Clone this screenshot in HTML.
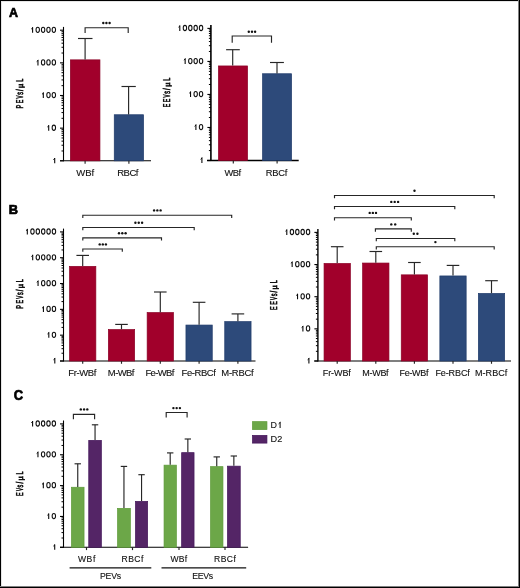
<!DOCTYPE html>
<html><head><meta charset="utf-8"><style>html,body{margin:0;padding:0;background:#fff;width:520px;height:588px;overflow:hidden}body{position:relative;font-family:"Liberation Sans",sans-serif}</style></head><body>
<svg width="520" height="588" viewBox="0 0 520 588" style="position:absolute;left:0;top:0;will-change:transform" font-family="Liberation Sans, sans-serif">
<rect x="0" y="0" width="520" height="588" fill="#fff"/>
<text x="8.89" y="17.30" font-size="13.66" font-weight="bold" textLength="9.04" lengthAdjust="spacingAndGlyphs" fill="#000" stroke="#000" stroke-width="0.7">A</text>
<text x="8.84" y="214.00" font-size="12.94" font-weight="bold" textLength="9.24" lengthAdjust="spacingAndGlyphs" fill="#000" stroke="#000" stroke-width="0.7">B</text>
<text x="13.87" y="400.30" font-size="14.54" font-weight="bold" textLength="9.39" lengthAdjust="spacingAndGlyphs" fill="#000" stroke="#000" stroke-width="0.7">C</text>
<line x1="63.50" y1="26.90" x2="63.50" y2="161.30" stroke="#000" stroke-width="1.1"/>
<line x1="60.00" y1="160.80" x2="63.50" y2="160.80" stroke="#000" stroke-width="1.1"/>
<line x1="61.50" y1="150.97" x2="63.50" y2="150.97" stroke="#000" stroke-width="1.0"/>
<line x1="61.50" y1="145.22" x2="63.50" y2="145.22" stroke="#000" stroke-width="1.0"/>
<line x1="61.50" y1="141.14" x2="63.50" y2="141.14" stroke="#000" stroke-width="1.0"/>
<line x1="61.50" y1="137.98" x2="63.50" y2="137.98" stroke="#000" stroke-width="1.0"/>
<line x1="61.50" y1="135.39" x2="63.50" y2="135.39" stroke="#000" stroke-width="1.0"/>
<line x1="61.50" y1="133.21" x2="63.50" y2="133.21" stroke="#000" stroke-width="1.0"/>
<line x1="61.50" y1="131.31" x2="63.50" y2="131.31" stroke="#000" stroke-width="1.0"/>
<line x1="61.50" y1="129.64" x2="63.50" y2="129.64" stroke="#000" stroke-width="1.0"/>
<path d="M54.70,157.90 V163.35" stroke="#0a0a0a" stroke-width="1.1" fill="none"/>
<path d="M55.00,158.10 L53.40,159.60" stroke="#0a0a0a" stroke-width="1.0" fill="none"/>
<line x1="60.00" y1="128.15" x2="63.50" y2="128.15" stroke="#000" stroke-width="1.1"/>
<line x1="61.50" y1="118.32" x2="63.50" y2="118.32" stroke="#000" stroke-width="1.0"/>
<line x1="61.50" y1="112.57" x2="63.50" y2="112.57" stroke="#000" stroke-width="1.0"/>
<line x1="61.50" y1="108.49" x2="63.50" y2="108.49" stroke="#000" stroke-width="1.0"/>
<line x1="61.50" y1="105.33" x2="63.50" y2="105.33" stroke="#000" stroke-width="1.0"/>
<line x1="61.50" y1="102.74" x2="63.50" y2="102.74" stroke="#000" stroke-width="1.0"/>
<line x1="61.50" y1="100.56" x2="63.50" y2="100.56" stroke="#000" stroke-width="1.0"/>
<line x1="61.50" y1="98.66" x2="63.50" y2="98.66" stroke="#000" stroke-width="1.0"/>
<line x1="61.50" y1="96.99" x2="63.50" y2="96.99" stroke="#000" stroke-width="1.0"/>
<ellipse cx="53.85" cy="127.75" rx="1.7" ry="2.62" fill="none" stroke="#111" stroke-width="1.05"/>
<path d="M48.70,125.25 V130.70" stroke="#0a0a0a" stroke-width="1.1" fill="none"/>
<path d="M49.00,125.45 L47.40,126.95" stroke="#0a0a0a" stroke-width="1.0" fill="none"/>
<line x1="60.00" y1="95.50" x2="63.50" y2="95.50" stroke="#000" stroke-width="1.1"/>
<line x1="61.50" y1="85.67" x2="63.50" y2="85.67" stroke="#000" stroke-width="1.0"/>
<line x1="61.50" y1="79.92" x2="63.50" y2="79.92" stroke="#000" stroke-width="1.0"/>
<line x1="61.50" y1="75.84" x2="63.50" y2="75.84" stroke="#000" stroke-width="1.0"/>
<line x1="61.50" y1="72.68" x2="63.50" y2="72.68" stroke="#000" stroke-width="1.0"/>
<line x1="61.50" y1="70.09" x2="63.50" y2="70.09" stroke="#000" stroke-width="1.0"/>
<line x1="61.50" y1="67.91" x2="63.50" y2="67.91" stroke="#000" stroke-width="1.0"/>
<line x1="61.50" y1="66.01" x2="63.50" y2="66.01" stroke="#000" stroke-width="1.0"/>
<line x1="61.50" y1="64.34" x2="63.50" y2="64.34" stroke="#000" stroke-width="1.0"/>
<ellipse cx="48.48" cy="95.10" rx="1.7" ry="2.62" fill="none" stroke="#111" stroke-width="1.05"/>
<ellipse cx="53.85" cy="95.10" rx="1.7" ry="2.62" fill="none" stroke="#111" stroke-width="1.05"/>
<path d="M43.33,92.60 V98.05" stroke="#0a0a0a" stroke-width="1.1" fill="none"/>
<path d="M43.63,92.80 L42.03,94.30" stroke="#0a0a0a" stroke-width="1.0" fill="none"/>
<line x1="60.00" y1="62.85" x2="63.50" y2="62.85" stroke="#000" stroke-width="1.1"/>
<line x1="61.50" y1="53.02" x2="63.50" y2="53.02" stroke="#000" stroke-width="1.0"/>
<line x1="61.50" y1="47.27" x2="63.50" y2="47.27" stroke="#000" stroke-width="1.0"/>
<line x1="61.50" y1="43.19" x2="63.50" y2="43.19" stroke="#000" stroke-width="1.0"/>
<line x1="61.50" y1="40.03" x2="63.50" y2="40.03" stroke="#000" stroke-width="1.0"/>
<line x1="61.50" y1="37.44" x2="63.50" y2="37.44" stroke="#000" stroke-width="1.0"/>
<line x1="61.50" y1="35.26" x2="63.50" y2="35.26" stroke="#000" stroke-width="1.0"/>
<line x1="61.50" y1="33.36" x2="63.50" y2="33.36" stroke="#000" stroke-width="1.0"/>
<line x1="61.50" y1="31.69" x2="63.50" y2="31.69" stroke="#000" stroke-width="1.0"/>
<ellipse cx="43.11" cy="62.45" rx="1.7" ry="2.62" fill="none" stroke="#111" stroke-width="1.05"/>
<ellipse cx="48.48" cy="62.45" rx="1.7" ry="2.62" fill="none" stroke="#111" stroke-width="1.05"/>
<ellipse cx="53.85" cy="62.45" rx="1.7" ry="2.62" fill="none" stroke="#111" stroke-width="1.05"/>
<path d="M37.96,59.95 V65.40" stroke="#0a0a0a" stroke-width="1.1" fill="none"/>
<path d="M38.26,60.15 L36.66,61.65" stroke="#0a0a0a" stroke-width="1.0" fill="none"/>
<line x1="60.00" y1="30.20" x2="63.50" y2="30.20" stroke="#000" stroke-width="1.1"/>
<ellipse cx="37.74" cy="29.80" rx="1.7" ry="2.62" fill="none" stroke="#111" stroke-width="1.05"/>
<ellipse cx="43.11" cy="29.80" rx="1.7" ry="2.62" fill="none" stroke="#111" stroke-width="1.05"/>
<ellipse cx="48.48" cy="29.80" rx="1.7" ry="2.62" fill="none" stroke="#111" stroke-width="1.05"/>
<ellipse cx="53.85" cy="29.80" rx="1.7" ry="2.62" fill="none" stroke="#111" stroke-width="1.05"/>
<path d="M32.59,27.30 V32.75" stroke="#0a0a0a" stroke-width="1.1" fill="none"/>
<path d="M32.89,27.50 L31.29,29.00" stroke="#0a0a0a" stroke-width="1.0" fill="none"/>
<line x1="60.00" y1="160.80" x2="151.00" y2="160.80" stroke="#000" stroke-width="1.1"/>
<rect x="70.35" y="59.85" width="29.60" height="100.95" fill="#a1002b" stroke="#8a0025" stroke-width="0.7"/>
<rect x="114.25" y="114.75" width="29.30" height="46.05" fill="#2d4a7a" stroke="#1f3a6a" stroke-width="0.7"/>
<line x1="85.10" y1="59.50" x2="85.10" y2="38.50" stroke="#262626" stroke-width="1.15"/>
<line x1="78.00" y1="38.50" x2="92.50" y2="38.50" stroke="#262626" stroke-width="1.15"/>
<line x1="128.60" y1="114.40" x2="128.60" y2="86.50" stroke="#262626" stroke-width="1.15"/>
<line x1="121.50" y1="86.50" x2="135.80" y2="86.50" stroke="#262626" stroke-width="1.15"/>
<line x1="85.10" y1="160.80" x2="85.10" y2="163.80" stroke="#262626" stroke-width="1.15"/>
<line x1="128.90" y1="160.80" x2="128.90" y2="163.80" stroke="#262626" stroke-width="1.15"/>
<text x="76.26" y="175.60" font-size="9.52" font-weight="normal" textLength="17.93" lengthAdjust="spacing" fill="#111" stroke="#111" stroke-width="0.12">WBf</text>
<text x="117.22" y="175.60" font-size="9.52" font-weight="normal" textLength="21.27" lengthAdjust="spacing" fill="#111" stroke="#111" stroke-width="0.12">RBCf</text>
<path d="M85.10,33.00 V27.70 H128.20 V33.00" fill="none" stroke="#262626" stroke-width="1.15"/>
<circle cx="103.30" cy="23.00" r="1.2" fill="#111"/>
<circle cx="106.40" cy="23.00" r="1.2" fill="#111"/>
<circle cx="109.60" cy="23.00" r="1.2" fill="#111"/>
<g transform="translate(22.70,108.30) rotate(-90)" fill="#111" stroke="#111" stroke-width="0.7" text-rendering="geometricPrecision"><text transform="translate(-0.11,0) scale(0.57,1)" font-size="9.80">P</text><text transform="translate(5.02,0) scale(0.54,1)" font-size="9.80">E</text><text transform="translate(9.78,0) scale(0.47,1)" font-size="9.80">V</text><text transform="translate(13.50,0) scale(0.55,1)" font-size="9.80">s</text><text transform="translate(17.30,0) scale(0.62,1)" font-size="9.80">/</text><text transform="translate(20.41,0) scale(0.95,1)" font-size="7.64">µ</text><text transform="translate(26.44,0) scale(0.57,1)" font-size="9.80">L</text></g>
<line x1="210.90" y1="25.05" x2="210.90" y2="161.00" stroke="#000" stroke-width="1.6"/>
<line x1="207.40" y1="160.50" x2="210.90" y2="160.50" stroke="#000" stroke-width="1.1"/>
<line x1="208.90" y1="150.56" x2="210.90" y2="150.56" stroke="#000" stroke-width="1.0"/>
<line x1="208.90" y1="144.74" x2="210.90" y2="144.74" stroke="#000" stroke-width="1.0"/>
<line x1="208.90" y1="140.62" x2="210.90" y2="140.62" stroke="#000" stroke-width="1.0"/>
<line x1="208.90" y1="137.42" x2="210.90" y2="137.42" stroke="#000" stroke-width="1.0"/>
<line x1="208.90" y1="134.80" x2="210.90" y2="134.80" stroke="#000" stroke-width="1.0"/>
<line x1="208.90" y1="132.59" x2="210.90" y2="132.59" stroke="#000" stroke-width="1.0"/>
<line x1="208.90" y1="130.68" x2="210.90" y2="130.68" stroke="#000" stroke-width="1.0"/>
<line x1="208.90" y1="128.99" x2="210.90" y2="128.99" stroke="#000" stroke-width="1.0"/>
<path d="M201.90,157.60 V163.05" stroke="#0a0a0a" stroke-width="1.1" fill="none"/>
<path d="M202.20,157.80 L200.60,159.30" stroke="#0a0a0a" stroke-width="1.0" fill="none"/>
<line x1="207.40" y1="127.47" x2="210.90" y2="127.47" stroke="#000" stroke-width="1.1"/>
<line x1="208.90" y1="117.53" x2="210.90" y2="117.53" stroke="#000" stroke-width="1.0"/>
<line x1="208.90" y1="111.72" x2="210.90" y2="111.72" stroke="#000" stroke-width="1.0"/>
<line x1="208.90" y1="107.59" x2="210.90" y2="107.59" stroke="#000" stroke-width="1.0"/>
<line x1="208.90" y1="104.39" x2="210.90" y2="104.39" stroke="#000" stroke-width="1.0"/>
<line x1="208.90" y1="101.78" x2="210.90" y2="101.78" stroke="#000" stroke-width="1.0"/>
<line x1="208.90" y1="99.57" x2="210.90" y2="99.57" stroke="#000" stroke-width="1.0"/>
<line x1="208.90" y1="97.65" x2="210.90" y2="97.65" stroke="#000" stroke-width="1.0"/>
<line x1="208.90" y1="95.96" x2="210.90" y2="95.96" stroke="#000" stroke-width="1.0"/>
<ellipse cx="201.05" cy="127.07" rx="1.7" ry="2.62" fill="none" stroke="#111" stroke-width="1.05"/>
<path d="M195.90,124.57 V130.03" stroke="#0a0a0a" stroke-width="1.1" fill="none"/>
<path d="M196.20,124.77 L194.60,126.27" stroke="#0a0a0a" stroke-width="1.0" fill="none"/>
<line x1="207.40" y1="94.45" x2="210.90" y2="94.45" stroke="#000" stroke-width="1.1"/>
<line x1="208.90" y1="84.51" x2="210.90" y2="84.51" stroke="#000" stroke-width="1.0"/>
<line x1="208.90" y1="78.69" x2="210.90" y2="78.69" stroke="#000" stroke-width="1.0"/>
<line x1="208.90" y1="74.57" x2="210.90" y2="74.57" stroke="#000" stroke-width="1.0"/>
<line x1="208.90" y1="71.37" x2="210.90" y2="71.37" stroke="#000" stroke-width="1.0"/>
<line x1="208.90" y1="68.75" x2="210.90" y2="68.75" stroke="#000" stroke-width="1.0"/>
<line x1="208.90" y1="66.54" x2="210.90" y2="66.54" stroke="#000" stroke-width="1.0"/>
<line x1="208.90" y1="64.63" x2="210.90" y2="64.63" stroke="#000" stroke-width="1.0"/>
<line x1="208.90" y1="62.94" x2="210.90" y2="62.94" stroke="#000" stroke-width="1.0"/>
<ellipse cx="195.68" cy="94.05" rx="1.7" ry="2.62" fill="none" stroke="#111" stroke-width="1.05"/>
<ellipse cx="201.05" cy="94.05" rx="1.7" ry="2.62" fill="none" stroke="#111" stroke-width="1.05"/>
<path d="M190.53,91.55 V97.00" stroke="#0a0a0a" stroke-width="1.1" fill="none"/>
<path d="M190.83,91.75 L189.23,93.25" stroke="#0a0a0a" stroke-width="1.0" fill="none"/>
<line x1="207.40" y1="61.43" x2="210.90" y2="61.43" stroke="#000" stroke-width="1.1"/>
<line x1="208.90" y1="51.48" x2="210.90" y2="51.48" stroke="#000" stroke-width="1.0"/>
<line x1="208.90" y1="45.67" x2="210.90" y2="45.67" stroke="#000" stroke-width="1.0"/>
<line x1="208.90" y1="41.54" x2="210.90" y2="41.54" stroke="#000" stroke-width="1.0"/>
<line x1="208.90" y1="38.34" x2="210.90" y2="38.34" stroke="#000" stroke-width="1.0"/>
<line x1="208.90" y1="35.73" x2="210.90" y2="35.73" stroke="#000" stroke-width="1.0"/>
<line x1="208.90" y1="33.52" x2="210.90" y2="33.52" stroke="#000" stroke-width="1.0"/>
<line x1="208.90" y1="31.60" x2="210.90" y2="31.60" stroke="#000" stroke-width="1.0"/>
<line x1="208.90" y1="29.91" x2="210.90" y2="29.91" stroke="#000" stroke-width="1.0"/>
<ellipse cx="190.31" cy="61.03" rx="1.7" ry="2.62" fill="none" stroke="#111" stroke-width="1.05"/>
<ellipse cx="195.68" cy="61.03" rx="1.7" ry="2.62" fill="none" stroke="#111" stroke-width="1.05"/>
<ellipse cx="201.05" cy="61.03" rx="1.7" ry="2.62" fill="none" stroke="#111" stroke-width="1.05"/>
<path d="M185.16,58.53 V63.98" stroke="#0a0a0a" stroke-width="1.1" fill="none"/>
<path d="M185.46,58.73 L183.86,60.23" stroke="#0a0a0a" stroke-width="1.0" fill="none"/>
<line x1="207.40" y1="28.40" x2="210.90" y2="28.40" stroke="#000" stroke-width="1.1"/>
<ellipse cx="184.94" cy="28.00" rx="1.7" ry="2.62" fill="none" stroke="#111" stroke-width="1.05"/>
<ellipse cx="190.31" cy="28.00" rx="1.7" ry="2.62" fill="none" stroke="#111" stroke-width="1.05"/>
<ellipse cx="195.68" cy="28.00" rx="1.7" ry="2.62" fill="none" stroke="#111" stroke-width="1.05"/>
<ellipse cx="201.05" cy="28.00" rx="1.7" ry="2.62" fill="none" stroke="#111" stroke-width="1.05"/>
<path d="M179.79,25.50 V30.95" stroke="#0a0a0a" stroke-width="1.1" fill="none"/>
<path d="M180.09,25.70 L178.49,27.20" stroke="#0a0a0a" stroke-width="1.0" fill="none"/>
<line x1="207.00" y1="160.50" x2="298.70" y2="160.50" stroke="#000" stroke-width="1.5"/>
<rect x="218.45" y="65.95" width="29.10" height="94.55" fill="#a1002b" stroke="#8a0025" stroke-width="0.7"/>
<rect x="262.55" y="73.75" width="29.00" height="86.75" fill="#2d4a7a" stroke="#1f3a6a" stroke-width="0.7"/>
<line x1="232.70" y1="65.60" x2="232.70" y2="49.70" stroke="#262626" stroke-width="1.15"/>
<line x1="226.10" y1="49.70" x2="239.80" y2="49.70" stroke="#262626" stroke-width="1.15"/>
<line x1="277.00" y1="73.40" x2="277.00" y2="62.50" stroke="#262626" stroke-width="1.15"/>
<line x1="270.00" y1="62.50" x2="283.90" y2="62.50" stroke="#262626" stroke-width="1.15"/>
<line x1="233.30" y1="160.50" x2="233.30" y2="163.60" stroke="#262626" stroke-width="1.15"/>
<line x1="277.10" y1="160.50" x2="277.10" y2="163.60" stroke="#262626" stroke-width="1.15"/>
<text x="224.46" y="175.50" font-size="9.30" font-weight="normal" textLength="16.73" lengthAdjust="spacing" fill="#111" stroke="#111" stroke-width="0.12">WBf</text>
<text x="265.74" y="175.50" font-size="9.30" font-weight="normal" textLength="21.65" lengthAdjust="spacing" fill="#111" stroke="#111" stroke-width="0.12">RBCf</text>
<path d="M232.20,42.80 V36.00 H271.50 V42.80" fill="none" stroke="#262626" stroke-width="1.15"/>
<circle cx="248.80" cy="31.70" r="1.2" fill="#111"/>
<circle cx="252.00" cy="31.70" r="1.2" fill="#111"/>
<circle cx="255.10" cy="31.70" r="1.2" fill="#111"/>
<g transform="translate(170.35,107.20) rotate(-90)" fill="#111" stroke="#111" stroke-width="0.7" text-rendering="geometricPrecision"><text transform="translate(-0.08,0) scale(0.54,1)" font-size="9.80">E</text><text transform="translate(5.02,0) scale(0.54,1)" font-size="9.80">E</text><text transform="translate(9.78,0) scale(0.47,1)" font-size="9.80">V</text><text transform="translate(13.50,0) scale(0.55,1)" font-size="9.80">s</text><text transform="translate(17.30,0) scale(0.62,1)" font-size="9.80">/</text><text transform="translate(20.41,0) scale(0.95,1)" font-size="7.64">µ</text><text transform="translate(26.44,0) scale(0.57,1)" font-size="9.80">L</text></g>
<line x1="63.50" y1="228.60" x2="63.50" y2="361.50" stroke="#000" stroke-width="1.1"/>
<line x1="60.00" y1="361.00" x2="63.50" y2="361.00" stroke="#000" stroke-width="1.1"/>
<line x1="61.50" y1="353.23" x2="63.50" y2="353.23" stroke="#000" stroke-width="1.0"/>
<line x1="61.50" y1="348.68" x2="63.50" y2="348.68" stroke="#000" stroke-width="1.0"/>
<line x1="61.50" y1="345.45" x2="63.50" y2="345.45" stroke="#000" stroke-width="1.0"/>
<line x1="61.50" y1="342.95" x2="63.50" y2="342.95" stroke="#000" stroke-width="1.0"/>
<line x1="61.50" y1="340.91" x2="63.50" y2="340.91" stroke="#000" stroke-width="1.0"/>
<line x1="61.50" y1="339.18" x2="63.50" y2="339.18" stroke="#000" stroke-width="1.0"/>
<line x1="61.50" y1="337.68" x2="63.50" y2="337.68" stroke="#000" stroke-width="1.0"/>
<line x1="61.50" y1="336.36" x2="63.50" y2="336.36" stroke="#000" stroke-width="1.0"/>
<path d="M54.80,358.10 V363.55" stroke="#0a0a0a" stroke-width="1.1" fill="none"/>
<path d="M55.10,358.30 L53.50,359.80" stroke="#0a0a0a" stroke-width="1.0" fill="none"/>
<line x1="60.00" y1="335.18" x2="63.50" y2="335.18" stroke="#000" stroke-width="1.1"/>
<line x1="61.50" y1="327.41" x2="63.50" y2="327.41" stroke="#000" stroke-width="1.0"/>
<line x1="61.50" y1="322.86" x2="63.50" y2="322.86" stroke="#000" stroke-width="1.0"/>
<line x1="61.50" y1="319.63" x2="63.50" y2="319.63" stroke="#000" stroke-width="1.0"/>
<line x1="61.50" y1="317.13" x2="63.50" y2="317.13" stroke="#000" stroke-width="1.0"/>
<line x1="61.50" y1="315.09" x2="63.50" y2="315.09" stroke="#000" stroke-width="1.0"/>
<line x1="61.50" y1="313.36" x2="63.50" y2="313.36" stroke="#000" stroke-width="1.0"/>
<line x1="61.50" y1="311.86" x2="63.50" y2="311.86" stroke="#000" stroke-width="1.0"/>
<line x1="61.50" y1="310.54" x2="63.50" y2="310.54" stroke="#000" stroke-width="1.0"/>
<ellipse cx="53.95" cy="334.78" rx="1.7" ry="2.62" fill="none" stroke="#111" stroke-width="1.05"/>
<path d="M48.80,332.28 V337.73" stroke="#0a0a0a" stroke-width="1.1" fill="none"/>
<path d="M49.10,332.48 L47.50,333.98" stroke="#0a0a0a" stroke-width="1.0" fill="none"/>
<line x1="60.00" y1="309.36" x2="63.50" y2="309.36" stroke="#000" stroke-width="1.1"/>
<line x1="61.50" y1="301.59" x2="63.50" y2="301.59" stroke="#000" stroke-width="1.0"/>
<line x1="61.50" y1="297.04" x2="63.50" y2="297.04" stroke="#000" stroke-width="1.0"/>
<line x1="61.50" y1="293.81" x2="63.50" y2="293.81" stroke="#000" stroke-width="1.0"/>
<line x1="61.50" y1="291.31" x2="63.50" y2="291.31" stroke="#000" stroke-width="1.0"/>
<line x1="61.50" y1="289.27" x2="63.50" y2="289.27" stroke="#000" stroke-width="1.0"/>
<line x1="61.50" y1="287.54" x2="63.50" y2="287.54" stroke="#000" stroke-width="1.0"/>
<line x1="61.50" y1="286.04" x2="63.50" y2="286.04" stroke="#000" stroke-width="1.0"/>
<line x1="61.50" y1="284.72" x2="63.50" y2="284.72" stroke="#000" stroke-width="1.0"/>
<ellipse cx="48.58" cy="308.96" rx="1.7" ry="2.62" fill="none" stroke="#111" stroke-width="1.05"/>
<ellipse cx="53.95" cy="308.96" rx="1.7" ry="2.62" fill="none" stroke="#111" stroke-width="1.05"/>
<path d="M43.43,306.46 V311.91" stroke="#0a0a0a" stroke-width="1.1" fill="none"/>
<path d="M43.73,306.66 L42.13,308.16" stroke="#0a0a0a" stroke-width="1.0" fill="none"/>
<line x1="60.00" y1="283.54" x2="63.50" y2="283.54" stroke="#000" stroke-width="1.1"/>
<line x1="61.50" y1="275.77" x2="63.50" y2="275.77" stroke="#000" stroke-width="1.0"/>
<line x1="61.50" y1="271.22" x2="63.50" y2="271.22" stroke="#000" stroke-width="1.0"/>
<line x1="61.50" y1="267.99" x2="63.50" y2="267.99" stroke="#000" stroke-width="1.0"/>
<line x1="61.50" y1="265.49" x2="63.50" y2="265.49" stroke="#000" stroke-width="1.0"/>
<line x1="61.50" y1="263.45" x2="63.50" y2="263.45" stroke="#000" stroke-width="1.0"/>
<line x1="61.50" y1="261.72" x2="63.50" y2="261.72" stroke="#000" stroke-width="1.0"/>
<line x1="61.50" y1="260.22" x2="63.50" y2="260.22" stroke="#000" stroke-width="1.0"/>
<line x1="61.50" y1="258.90" x2="63.50" y2="258.90" stroke="#000" stroke-width="1.0"/>
<ellipse cx="43.21" cy="283.14" rx="1.7" ry="2.62" fill="none" stroke="#111" stroke-width="1.05"/>
<ellipse cx="48.58" cy="283.14" rx="1.7" ry="2.62" fill="none" stroke="#111" stroke-width="1.05"/>
<ellipse cx="53.95" cy="283.14" rx="1.7" ry="2.62" fill="none" stroke="#111" stroke-width="1.05"/>
<path d="M38.06,280.64 V286.09" stroke="#0a0a0a" stroke-width="1.1" fill="none"/>
<path d="M38.36,280.84 L36.76,282.34" stroke="#0a0a0a" stroke-width="1.0" fill="none"/>
<line x1="60.00" y1="257.72" x2="63.50" y2="257.72" stroke="#000" stroke-width="1.1"/>
<line x1="61.50" y1="249.95" x2="63.50" y2="249.95" stroke="#000" stroke-width="1.0"/>
<line x1="61.50" y1="245.40" x2="63.50" y2="245.40" stroke="#000" stroke-width="1.0"/>
<line x1="61.50" y1="242.17" x2="63.50" y2="242.17" stroke="#000" stroke-width="1.0"/>
<line x1="61.50" y1="239.67" x2="63.50" y2="239.67" stroke="#000" stroke-width="1.0"/>
<line x1="61.50" y1="237.63" x2="63.50" y2="237.63" stroke="#000" stroke-width="1.0"/>
<line x1="61.50" y1="235.90" x2="63.50" y2="235.90" stroke="#000" stroke-width="1.0"/>
<line x1="61.50" y1="234.40" x2="63.50" y2="234.40" stroke="#000" stroke-width="1.0"/>
<line x1="61.50" y1="233.08" x2="63.50" y2="233.08" stroke="#000" stroke-width="1.0"/>
<ellipse cx="37.84" cy="257.32" rx="1.7" ry="2.62" fill="none" stroke="#111" stroke-width="1.05"/>
<ellipse cx="43.21" cy="257.32" rx="1.7" ry="2.62" fill="none" stroke="#111" stroke-width="1.05"/>
<ellipse cx="48.58" cy="257.32" rx="1.7" ry="2.62" fill="none" stroke="#111" stroke-width="1.05"/>
<ellipse cx="53.95" cy="257.32" rx="1.7" ry="2.62" fill="none" stroke="#111" stroke-width="1.05"/>
<path d="M32.69,254.82 V260.27" stroke="#0a0a0a" stroke-width="1.1" fill="none"/>
<path d="M32.99,255.02 L31.39,256.52" stroke="#0a0a0a" stroke-width="1.0" fill="none"/>
<line x1="60.00" y1="231.90" x2="63.50" y2="231.90" stroke="#000" stroke-width="1.1"/>
<ellipse cx="32.47" cy="231.50" rx="1.7" ry="2.62" fill="none" stroke="#111" stroke-width="1.05"/>
<ellipse cx="37.84" cy="231.50" rx="1.7" ry="2.62" fill="none" stroke="#111" stroke-width="1.05"/>
<ellipse cx="43.21" cy="231.50" rx="1.7" ry="2.62" fill="none" stroke="#111" stroke-width="1.05"/>
<ellipse cx="48.58" cy="231.50" rx="1.7" ry="2.62" fill="none" stroke="#111" stroke-width="1.05"/>
<ellipse cx="53.95" cy="231.50" rx="1.7" ry="2.62" fill="none" stroke="#111" stroke-width="1.05"/>
<path d="M27.32,229.00 V234.45" stroke="#0a0a0a" stroke-width="1.1" fill="none"/>
<path d="M27.62,229.20 L26.02,230.70" stroke="#0a0a0a" stroke-width="1.0" fill="none"/>
<line x1="60.00" y1="361.00" x2="255.50" y2="361.00" stroke="#000" stroke-width="1.1"/>
<rect x="69.55" y="266.35" width="26.30" height="94.65" fill="#a1002b" stroke="#8a0025" stroke-width="0.7"/>
<line x1="82.70" y1="266.00" x2="82.70" y2="255.40" stroke="#262626" stroke-width="1.15"/>
<line x1="76.40" y1="255.40" x2="89.00" y2="255.40" stroke="#262626" stroke-width="1.15"/>
<line x1="82.70" y1="361.00" x2="82.70" y2="363.80" stroke="#262626" stroke-width="1.15"/>
<rect x="108.35" y="329.55" width="26.30" height="31.45" fill="#a1002b" stroke="#8a0025" stroke-width="0.7"/>
<line x1="121.50" y1="329.20" x2="121.50" y2="324.40" stroke="#262626" stroke-width="1.15"/>
<line x1="115.20" y1="324.40" x2="127.80" y2="324.40" stroke="#262626" stroke-width="1.15"/>
<line x1="121.50" y1="361.00" x2="121.50" y2="363.80" stroke="#262626" stroke-width="1.15"/>
<rect x="147.15" y="312.55" width="26.30" height="48.45" fill="#a1002b" stroke="#8a0025" stroke-width="0.7"/>
<line x1="160.30" y1="312.20" x2="160.30" y2="292.00" stroke="#262626" stroke-width="1.15"/>
<line x1="154.00" y1="292.00" x2="166.60" y2="292.00" stroke="#262626" stroke-width="1.15"/>
<line x1="160.30" y1="361.00" x2="160.30" y2="363.80" stroke="#262626" stroke-width="1.15"/>
<rect x="185.95" y="325.05" width="26.30" height="35.95" fill="#2d4a7a" stroke="#1f3a6a" stroke-width="0.7"/>
<line x1="199.10" y1="324.70" x2="199.10" y2="302.30" stroke="#262626" stroke-width="1.15"/>
<line x1="192.80" y1="302.30" x2="205.40" y2="302.30" stroke="#262626" stroke-width="1.15"/>
<line x1="199.10" y1="361.00" x2="199.10" y2="363.80" stroke="#262626" stroke-width="1.15"/>
<rect x="224.75" y="321.65" width="26.30" height="39.35" fill="#2d4a7a" stroke="#1f3a6a" stroke-width="0.7"/>
<line x1="237.90" y1="321.30" x2="237.90" y2="313.90" stroke="#262626" stroke-width="1.15"/>
<line x1="231.60" y1="313.90" x2="244.20" y2="313.90" stroke="#262626" stroke-width="1.15"/>
<line x1="237.90" y1="361.00" x2="237.90" y2="363.80" stroke="#262626" stroke-width="1.15"/>
<text x="68.32" y="376.00" font-size="9.45" font-weight="normal" textLength="27.96" lengthAdjust="spacing" fill="#111" stroke="#111" stroke-width="0.12">Fr-WBf</text>
<text x="107.87" y="376.00" font-size="9.45" font-weight="normal" textLength="26.46" lengthAdjust="spacing" fill="#111" stroke="#111" stroke-width="0.12">M-WBf</text>
<text x="145.42" y="376.00" font-size="9.45" font-weight="normal" textLength="28.96" lengthAdjust="spacing" fill="#111" stroke="#111" stroke-width="0.12">Fe-WBf</text>
<text x="181.52" y="376.00" font-size="9.45" font-weight="normal" textLength="34.36" lengthAdjust="spacing" fill="#111" stroke="#111" stroke-width="0.12">Fe-RBCf</text>
<text x="221.27" y="376.00" font-size="9.45" font-weight="normal" textLength="32.46" lengthAdjust="spacing" fill="#111" stroke="#111" stroke-width="0.12">M-RBCf</text>
<path d="M82.80,217.90 V215.20 H231.70 V217.90" fill="none" stroke="#262626" stroke-width="1.15"/>
<circle cx="154.10" cy="210.40" r="1.2" fill="#111"/>
<circle cx="157.35" cy="210.40" r="1.2" fill="#111"/>
<circle cx="160.60" cy="210.40" r="1.2" fill="#111"/>
<path d="M82.80,230.20 V227.50 H194.20 V230.20" fill="none" stroke="#262626" stroke-width="1.15"/>
<circle cx="135.40" cy="222.80" r="1.2" fill="#111"/>
<circle cx="138.75" cy="222.80" r="1.2" fill="#111"/>
<circle cx="142.10" cy="222.80" r="1.2" fill="#111"/>
<path d="M82.80,240.60 V237.90 H161.50 V240.60" fill="none" stroke="#262626" stroke-width="1.15"/>
<circle cx="119.00" cy="233.30" r="1.2" fill="#111"/>
<circle cx="122.30" cy="233.30" r="1.2" fill="#111"/>
<circle cx="125.60" cy="233.30" r="1.2" fill="#111"/>
<path d="M82.80,251.70 V249.00 H122.30 V251.70" fill="none" stroke="#262626" stroke-width="1.15"/>
<circle cx="99.70" cy="244.40" r="1.2" fill="#111"/>
<circle cx="102.80" cy="244.40" r="1.2" fill="#111"/>
<circle cx="105.90" cy="244.40" r="1.2" fill="#111"/>
<g transform="translate(22.75,308.60) rotate(-90)" fill="#111" stroke="#111" stroke-width="0.7" text-rendering="geometricPrecision"><text transform="translate(-0.11,0) scale(0.57,1)" font-size="9.80">P</text><text transform="translate(5.02,0) scale(0.54,1)" font-size="9.80">E</text><text transform="translate(9.78,0) scale(0.47,1)" font-size="9.80">V</text><text transform="translate(13.50,0) scale(0.55,1)" font-size="9.80">s</text><text transform="translate(17.30,0) scale(0.62,1)" font-size="9.80">/</text><text transform="translate(20.41,0) scale(0.95,1)" font-size="7.64">µ</text><text transform="translate(26.44,0) scale(0.57,1)" font-size="9.80">L</text></g>
<line x1="317.90" y1="229.00" x2="317.90" y2="361.50" stroke="#000" stroke-width="1.4"/>
<line x1="314.40" y1="361.00" x2="317.90" y2="361.00" stroke="#000" stroke-width="1.1"/>
<line x1="315.90" y1="351.32" x2="317.90" y2="351.32" stroke="#000" stroke-width="1.0"/>
<line x1="315.90" y1="345.66" x2="317.90" y2="345.66" stroke="#000" stroke-width="1.0"/>
<line x1="315.90" y1="341.64" x2="317.90" y2="341.64" stroke="#000" stroke-width="1.0"/>
<line x1="315.90" y1="338.53" x2="317.90" y2="338.53" stroke="#000" stroke-width="1.0"/>
<line x1="315.90" y1="335.98" x2="317.90" y2="335.98" stroke="#000" stroke-width="1.0"/>
<line x1="315.90" y1="333.83" x2="317.90" y2="333.83" stroke="#000" stroke-width="1.0"/>
<line x1="315.90" y1="331.97" x2="317.90" y2="331.97" stroke="#000" stroke-width="1.0"/>
<line x1="315.90" y1="330.32" x2="317.90" y2="330.32" stroke="#000" stroke-width="1.0"/>
<path d="M308.90,358.10 V363.55" stroke="#0a0a0a" stroke-width="1.1" fill="none"/>
<path d="M309.20,358.30 L307.60,359.80" stroke="#0a0a0a" stroke-width="1.0" fill="none"/>
<line x1="314.40" y1="328.85" x2="317.90" y2="328.85" stroke="#000" stroke-width="1.1"/>
<line x1="315.90" y1="319.17" x2="317.90" y2="319.17" stroke="#000" stroke-width="1.0"/>
<line x1="315.90" y1="313.51" x2="317.90" y2="313.51" stroke="#000" stroke-width="1.0"/>
<line x1="315.90" y1="309.49" x2="317.90" y2="309.49" stroke="#000" stroke-width="1.0"/>
<line x1="315.90" y1="306.38" x2="317.90" y2="306.38" stroke="#000" stroke-width="1.0"/>
<line x1="315.90" y1="303.83" x2="317.90" y2="303.83" stroke="#000" stroke-width="1.0"/>
<line x1="315.90" y1="301.68" x2="317.90" y2="301.68" stroke="#000" stroke-width="1.0"/>
<line x1="315.90" y1="299.82" x2="317.90" y2="299.82" stroke="#000" stroke-width="1.0"/>
<line x1="315.90" y1="298.17" x2="317.90" y2="298.17" stroke="#000" stroke-width="1.0"/>
<ellipse cx="308.05" cy="328.45" rx="1.7" ry="2.62" fill="none" stroke="#111" stroke-width="1.05"/>
<path d="M302.90,325.95 V331.40" stroke="#0a0a0a" stroke-width="1.1" fill="none"/>
<path d="M303.20,326.15 L301.60,327.65" stroke="#0a0a0a" stroke-width="1.0" fill="none"/>
<line x1="314.40" y1="296.70" x2="317.90" y2="296.70" stroke="#000" stroke-width="1.1"/>
<line x1="315.90" y1="287.02" x2="317.90" y2="287.02" stroke="#000" stroke-width="1.0"/>
<line x1="315.90" y1="281.36" x2="317.90" y2="281.36" stroke="#000" stroke-width="1.0"/>
<line x1="315.90" y1="277.34" x2="317.90" y2="277.34" stroke="#000" stroke-width="1.0"/>
<line x1="315.90" y1="274.23" x2="317.90" y2="274.23" stroke="#000" stroke-width="1.0"/>
<line x1="315.90" y1="271.68" x2="317.90" y2="271.68" stroke="#000" stroke-width="1.0"/>
<line x1="315.90" y1="269.53" x2="317.90" y2="269.53" stroke="#000" stroke-width="1.0"/>
<line x1="315.90" y1="267.67" x2="317.90" y2="267.67" stroke="#000" stroke-width="1.0"/>
<line x1="315.90" y1="266.02" x2="317.90" y2="266.02" stroke="#000" stroke-width="1.0"/>
<ellipse cx="302.68" cy="296.30" rx="1.7" ry="2.62" fill="none" stroke="#111" stroke-width="1.05"/>
<ellipse cx="308.05" cy="296.30" rx="1.7" ry="2.62" fill="none" stroke="#111" stroke-width="1.05"/>
<path d="M297.53,293.80 V299.25" stroke="#0a0a0a" stroke-width="1.1" fill="none"/>
<path d="M297.83,294.00 L296.23,295.50" stroke="#0a0a0a" stroke-width="1.0" fill="none"/>
<line x1="314.40" y1="264.55" x2="317.90" y2="264.55" stroke="#000" stroke-width="1.1"/>
<line x1="315.90" y1="254.87" x2="317.90" y2="254.87" stroke="#000" stroke-width="1.0"/>
<line x1="315.90" y1="249.21" x2="317.90" y2="249.21" stroke="#000" stroke-width="1.0"/>
<line x1="315.90" y1="245.19" x2="317.90" y2="245.19" stroke="#000" stroke-width="1.0"/>
<line x1="315.90" y1="242.08" x2="317.90" y2="242.08" stroke="#000" stroke-width="1.0"/>
<line x1="315.90" y1="239.53" x2="317.90" y2="239.53" stroke="#000" stroke-width="1.0"/>
<line x1="315.90" y1="237.38" x2="317.90" y2="237.38" stroke="#000" stroke-width="1.0"/>
<line x1="315.90" y1="235.52" x2="317.90" y2="235.52" stroke="#000" stroke-width="1.0"/>
<line x1="315.90" y1="233.87" x2="317.90" y2="233.87" stroke="#000" stroke-width="1.0"/>
<ellipse cx="297.31" cy="264.15" rx="1.7" ry="2.62" fill="none" stroke="#111" stroke-width="1.05"/>
<ellipse cx="302.68" cy="264.15" rx="1.7" ry="2.62" fill="none" stroke="#111" stroke-width="1.05"/>
<ellipse cx="308.05" cy="264.15" rx="1.7" ry="2.62" fill="none" stroke="#111" stroke-width="1.05"/>
<path d="M292.16,261.65 V267.10" stroke="#0a0a0a" stroke-width="1.1" fill="none"/>
<path d="M292.46,261.85 L290.86,263.35" stroke="#0a0a0a" stroke-width="1.0" fill="none"/>
<line x1="314.40" y1="232.40" x2="317.90" y2="232.40" stroke="#000" stroke-width="1.1"/>
<ellipse cx="291.94" cy="232.00" rx="1.7" ry="2.62" fill="none" stroke="#111" stroke-width="1.05"/>
<ellipse cx="297.31" cy="232.00" rx="1.7" ry="2.62" fill="none" stroke="#111" stroke-width="1.05"/>
<ellipse cx="302.68" cy="232.00" rx="1.7" ry="2.62" fill="none" stroke="#111" stroke-width="1.05"/>
<ellipse cx="308.05" cy="232.00" rx="1.7" ry="2.62" fill="none" stroke="#111" stroke-width="1.05"/>
<path d="M286.79,229.50 V234.95" stroke="#0a0a0a" stroke-width="1.1" fill="none"/>
<path d="M287.09,229.70 L285.49,231.20" stroke="#0a0a0a" stroke-width="1.0" fill="none"/>
<line x1="314.20" y1="361.00" x2="511.00" y2="361.00" stroke="#000" stroke-width="1.1"/>
<rect x="324.05" y="263.45" width="26.30" height="97.55" fill="#a1002b" stroke="#8a0025" stroke-width="0.7"/>
<line x1="337.20" y1="263.10" x2="337.20" y2="246.70" stroke="#262626" stroke-width="1.15"/>
<line x1="330.90" y1="246.70" x2="343.50" y2="246.70" stroke="#262626" stroke-width="1.15"/>
<line x1="337.20" y1="361.00" x2="337.20" y2="363.80" stroke="#262626" stroke-width="1.15"/>
<rect x="362.65" y="263.05" width="26.30" height="97.95" fill="#a1002b" stroke="#8a0025" stroke-width="0.7"/>
<line x1="375.80" y1="262.70" x2="375.80" y2="251.50" stroke="#262626" stroke-width="1.15"/>
<line x1="369.50" y1="251.50" x2="382.10" y2="251.50" stroke="#262626" stroke-width="1.15"/>
<line x1="375.80" y1="361.00" x2="375.80" y2="363.80" stroke="#262626" stroke-width="1.15"/>
<rect x="401.25" y="274.85" width="26.30" height="86.15" fill="#a1002b" stroke="#8a0025" stroke-width="0.7"/>
<line x1="414.40" y1="274.50" x2="414.40" y2="262.50" stroke="#262626" stroke-width="1.15"/>
<line x1="408.10" y1="262.50" x2="420.70" y2="262.50" stroke="#262626" stroke-width="1.15"/>
<line x1="414.40" y1="361.00" x2="414.40" y2="363.80" stroke="#262626" stroke-width="1.15"/>
<rect x="439.85" y="275.95" width="26.30" height="85.05" fill="#2d4a7a" stroke="#1f3a6a" stroke-width="0.7"/>
<line x1="453.00" y1="275.60" x2="453.00" y2="265.40" stroke="#262626" stroke-width="1.15"/>
<line x1="446.70" y1="265.40" x2="459.30" y2="265.40" stroke="#262626" stroke-width="1.15"/>
<line x1="453.00" y1="361.00" x2="453.00" y2="363.80" stroke="#262626" stroke-width="1.15"/>
<rect x="478.35" y="293.45" width="26.30" height="67.55" fill="#2d4a7a" stroke="#1f3a6a" stroke-width="0.7"/>
<line x1="491.50" y1="293.10" x2="491.50" y2="280.70" stroke="#262626" stroke-width="1.15"/>
<line x1="485.20" y1="280.70" x2="497.80" y2="280.70" stroke="#262626" stroke-width="1.15"/>
<line x1="491.50" y1="361.00" x2="491.50" y2="363.80" stroke="#262626" stroke-width="1.15"/>
<text x="322.86" y="375.90" font-size="9.01" font-weight="normal" textLength="27.93" lengthAdjust="spacing" fill="#111" stroke="#111" stroke-width="0.12">Fr-WBf</text>
<text x="362.21" y="375.90" font-size="9.01" font-weight="normal" textLength="26.43" lengthAdjust="spacing" fill="#111" stroke="#111" stroke-width="0.12">M-WBf</text>
<text x="399.56" y="375.90" font-size="9.01" font-weight="normal" textLength="28.93" lengthAdjust="spacing" fill="#111" stroke="#111" stroke-width="0.12">Fe-WBf</text>
<text x="435.46" y="375.90" font-size="9.01" font-weight="normal" textLength="34.33" lengthAdjust="spacing" fill="#111" stroke="#111" stroke-width="0.12">Fe-RBCf</text>
<text x="474.91" y="375.90" font-size="9.01" font-weight="normal" textLength="32.43" lengthAdjust="spacing" fill="#111" stroke="#111" stroke-width="0.12">M-RBCf</text>
<path d="M334.50,198.30 V195.50 H494.20 V198.30" fill="none" stroke="#262626" stroke-width="1.15"/>
<circle cx="414.50" cy="190.80" r="1.2" fill="#111"/>
<path d="M334.50,209.30 V206.50 H454.80 V209.30" fill="none" stroke="#262626" stroke-width="1.15"/>
<circle cx="391.30" cy="201.90" r="1.2" fill="#111"/>
<circle cx="394.70" cy="201.90" r="1.2" fill="#111"/>
<circle cx="398.10" cy="201.90" r="1.2" fill="#111"/>
<path d="M334.50,220.50 V217.70 H411.30 V220.50" fill="none" stroke="#262626" stroke-width="1.15"/>
<circle cx="369.70" cy="212.90" r="1.2" fill="#111"/>
<circle cx="372.85" cy="212.90" r="1.2" fill="#111"/>
<circle cx="376.00" cy="212.90" r="1.2" fill="#111"/>
<path d="M375.40,231.70 V228.90 H411.30 V231.70" fill="none" stroke="#262626" stroke-width="1.15"/>
<circle cx="391.30" cy="224.40" r="1.2" fill="#111"/>
<circle cx="395.20" cy="224.40" r="1.2" fill="#111"/>
<path d="M376.30,241.30 V238.50 H454.80 V241.30" fill="none" stroke="#262626" stroke-width="1.15"/>
<circle cx="413.80" cy="233.70" r="1.2" fill="#111"/>
<circle cx="417.40" cy="233.70" r="1.2" fill="#111"/>
<path d="M376.30,249.50 V246.70 H494.20 V249.50" fill="none" stroke="#262626" stroke-width="1.15"/>
<circle cx="435.40" cy="242.10" r="1.2" fill="#111"/>
<g transform="translate(277.25,309.80) rotate(-90)" fill="#111" stroke="#111" stroke-width="0.7" text-rendering="geometricPrecision"><text transform="translate(-0.08,0) scale(0.54,1)" font-size="9.80">E</text><text transform="translate(5.02,0) scale(0.54,1)" font-size="9.80">E</text><text transform="translate(9.78,0) scale(0.47,1)" font-size="9.80">V</text><text transform="translate(13.50,0) scale(0.55,1)" font-size="9.80">s</text><text transform="translate(17.30,0) scale(0.62,1)" font-size="9.80">/</text><text transform="translate(20.41,0) scale(0.95,1)" font-size="7.64">µ</text><text transform="translate(26.44,0) scale(0.57,1)" font-size="9.80">L</text></g>
<line x1="63.50" y1="420.50" x2="63.50" y2="547.80" stroke="#000" stroke-width="1.1"/>
<line x1="60.00" y1="547.30" x2="63.50" y2="547.30" stroke="#000" stroke-width="1.1"/>
<line x1="61.50" y1="538.01" x2="63.50" y2="538.01" stroke="#000" stroke-width="1.0"/>
<line x1="61.50" y1="532.58" x2="63.50" y2="532.58" stroke="#000" stroke-width="1.0"/>
<line x1="61.50" y1="528.73" x2="63.50" y2="528.73" stroke="#000" stroke-width="1.0"/>
<line x1="61.50" y1="525.74" x2="63.50" y2="525.74" stroke="#000" stroke-width="1.0"/>
<line x1="61.50" y1="523.29" x2="63.50" y2="523.29" stroke="#000" stroke-width="1.0"/>
<line x1="61.50" y1="521.23" x2="63.50" y2="521.23" stroke="#000" stroke-width="1.0"/>
<line x1="61.50" y1="519.44" x2="63.50" y2="519.44" stroke="#000" stroke-width="1.0"/>
<line x1="61.50" y1="517.86" x2="63.50" y2="517.86" stroke="#000" stroke-width="1.0"/>
<path d="M54.70,544.40 V549.85" stroke="#0a0a0a" stroke-width="1.1" fill="none"/>
<path d="M55.00,544.60 L53.40,546.10" stroke="#0a0a0a" stroke-width="1.0" fill="none"/>
<line x1="60.00" y1="516.45" x2="63.50" y2="516.45" stroke="#000" stroke-width="1.1"/>
<line x1="61.50" y1="507.16" x2="63.50" y2="507.16" stroke="#000" stroke-width="1.0"/>
<line x1="61.50" y1="501.73" x2="63.50" y2="501.73" stroke="#000" stroke-width="1.0"/>
<line x1="61.50" y1="497.88" x2="63.50" y2="497.88" stroke="#000" stroke-width="1.0"/>
<line x1="61.50" y1="494.89" x2="63.50" y2="494.89" stroke="#000" stroke-width="1.0"/>
<line x1="61.50" y1="492.44" x2="63.50" y2="492.44" stroke="#000" stroke-width="1.0"/>
<line x1="61.50" y1="490.38" x2="63.50" y2="490.38" stroke="#000" stroke-width="1.0"/>
<line x1="61.50" y1="488.59" x2="63.50" y2="488.59" stroke="#000" stroke-width="1.0"/>
<line x1="61.50" y1="487.01" x2="63.50" y2="487.01" stroke="#000" stroke-width="1.0"/>
<ellipse cx="53.85" cy="516.05" rx="1.7" ry="2.62" fill="none" stroke="#111" stroke-width="1.05"/>
<path d="M48.70,513.55 V519.00" stroke="#0a0a0a" stroke-width="1.1" fill="none"/>
<path d="M49.00,513.75 L47.40,515.25" stroke="#0a0a0a" stroke-width="1.0" fill="none"/>
<line x1="60.00" y1="485.60" x2="63.50" y2="485.60" stroke="#000" stroke-width="1.1"/>
<line x1="61.50" y1="476.31" x2="63.50" y2="476.31" stroke="#000" stroke-width="1.0"/>
<line x1="61.50" y1="470.88" x2="63.50" y2="470.88" stroke="#000" stroke-width="1.0"/>
<line x1="61.50" y1="467.03" x2="63.50" y2="467.03" stroke="#000" stroke-width="1.0"/>
<line x1="61.50" y1="464.04" x2="63.50" y2="464.04" stroke="#000" stroke-width="1.0"/>
<line x1="61.50" y1="461.59" x2="63.50" y2="461.59" stroke="#000" stroke-width="1.0"/>
<line x1="61.50" y1="459.53" x2="63.50" y2="459.53" stroke="#000" stroke-width="1.0"/>
<line x1="61.50" y1="457.74" x2="63.50" y2="457.74" stroke="#000" stroke-width="1.0"/>
<line x1="61.50" y1="456.16" x2="63.50" y2="456.16" stroke="#000" stroke-width="1.0"/>
<ellipse cx="48.48" cy="485.20" rx="1.7" ry="2.62" fill="none" stroke="#111" stroke-width="1.05"/>
<ellipse cx="53.85" cy="485.20" rx="1.7" ry="2.62" fill="none" stroke="#111" stroke-width="1.05"/>
<path d="M43.33,482.70 V488.15" stroke="#0a0a0a" stroke-width="1.1" fill="none"/>
<path d="M43.63,482.90 L42.03,484.40" stroke="#0a0a0a" stroke-width="1.0" fill="none"/>
<line x1="60.00" y1="454.75" x2="63.50" y2="454.75" stroke="#000" stroke-width="1.1"/>
<line x1="61.50" y1="445.46" x2="63.50" y2="445.46" stroke="#000" stroke-width="1.0"/>
<line x1="61.50" y1="440.03" x2="63.50" y2="440.03" stroke="#000" stroke-width="1.0"/>
<line x1="61.50" y1="436.18" x2="63.50" y2="436.18" stroke="#000" stroke-width="1.0"/>
<line x1="61.50" y1="433.19" x2="63.50" y2="433.19" stroke="#000" stroke-width="1.0"/>
<line x1="61.50" y1="430.74" x2="63.50" y2="430.74" stroke="#000" stroke-width="1.0"/>
<line x1="61.50" y1="428.68" x2="63.50" y2="428.68" stroke="#000" stroke-width="1.0"/>
<line x1="61.50" y1="426.89" x2="63.50" y2="426.89" stroke="#000" stroke-width="1.0"/>
<line x1="61.50" y1="425.31" x2="63.50" y2="425.31" stroke="#000" stroke-width="1.0"/>
<ellipse cx="43.11" cy="454.35" rx="1.7" ry="2.62" fill="none" stroke="#111" stroke-width="1.05"/>
<ellipse cx="48.48" cy="454.35" rx="1.7" ry="2.62" fill="none" stroke="#111" stroke-width="1.05"/>
<ellipse cx="53.85" cy="454.35" rx="1.7" ry="2.62" fill="none" stroke="#111" stroke-width="1.05"/>
<path d="M37.96,451.85 V457.30" stroke="#0a0a0a" stroke-width="1.1" fill="none"/>
<path d="M38.26,452.05 L36.66,453.55" stroke="#0a0a0a" stroke-width="1.0" fill="none"/>
<line x1="60.00" y1="423.90" x2="63.50" y2="423.90" stroke="#000" stroke-width="1.1"/>
<ellipse cx="37.74" cy="423.50" rx="1.7" ry="2.62" fill="none" stroke="#111" stroke-width="1.05"/>
<ellipse cx="43.11" cy="423.50" rx="1.7" ry="2.62" fill="none" stroke="#111" stroke-width="1.05"/>
<ellipse cx="48.48" cy="423.50" rx="1.7" ry="2.62" fill="none" stroke="#111" stroke-width="1.05"/>
<ellipse cx="53.85" cy="423.50" rx="1.7" ry="2.62" fill="none" stroke="#111" stroke-width="1.05"/>
<path d="M32.59,421.00 V426.45" stroke="#0a0a0a" stroke-width="1.1" fill="none"/>
<path d="M32.89,421.20 L31.29,422.70" stroke="#0a0a0a" stroke-width="1.0" fill="none"/>
<line x1="60.00" y1="547.30" x2="248.10" y2="547.30" stroke="#000" stroke-width="1.1"/>
<rect x="71.45" y="487.25" width="12.60" height="60.05" fill="#6ca748" stroke="#5d9a38" stroke-width="0.7"/>
<rect x="88.75" y="440.35" width="12.60" height="106.95" fill="#542566" stroke="#43165a" stroke-width="0.7"/>
<line x1="77.75" y1="486.90" x2="77.75" y2="463.80" stroke="#262626" stroke-width="1.15"/>
<line x1="74.55" y1="463.80" x2="80.95" y2="463.80" stroke="#262626" stroke-width="1.15"/>
<line x1="95.05" y1="440.00" x2="95.05" y2="424.80" stroke="#262626" stroke-width="1.15"/>
<line x1="91.85" y1="424.80" x2="98.25" y2="424.80" stroke="#262626" stroke-width="1.15"/>
<line x1="86.50" y1="547.30" x2="86.50" y2="550.10" stroke="#262626" stroke-width="1.15"/>
<rect x="117.55" y="508.35" width="12.80" height="38.95" fill="#6ca748" stroke="#5d9a38" stroke-width="0.7"/>
<rect x="135.45" y="501.35" width="12.20" height="45.95" fill="#542566" stroke="#43165a" stroke-width="0.7"/>
<line x1="123.95" y1="508.00" x2="123.95" y2="466.40" stroke="#262626" stroke-width="1.15"/>
<line x1="120.75" y1="466.40" x2="127.15" y2="466.40" stroke="#262626" stroke-width="1.15"/>
<line x1="141.55" y1="501.00" x2="141.55" y2="474.70" stroke="#262626" stroke-width="1.15"/>
<line x1="138.35" y1="474.70" x2="144.75" y2="474.70" stroke="#262626" stroke-width="1.15"/>
<line x1="132.50" y1="547.30" x2="132.50" y2="550.10" stroke="#262626" stroke-width="1.15"/>
<rect x="164.05" y="465.15" width="12.30" height="82.15" fill="#6ca748" stroke="#5d9a38" stroke-width="0.7"/>
<rect x="181.65" y="452.65" width="12.40" height="94.65" fill="#542566" stroke="#43165a" stroke-width="0.7"/>
<line x1="170.20" y1="464.80" x2="170.20" y2="452.90" stroke="#262626" stroke-width="1.15"/>
<line x1="167.00" y1="452.90" x2="173.40" y2="452.90" stroke="#262626" stroke-width="1.15"/>
<line x1="187.85" y1="452.30" x2="187.85" y2="439.00" stroke="#262626" stroke-width="1.15"/>
<line x1="184.65" y1="439.00" x2="191.05" y2="439.00" stroke="#262626" stroke-width="1.15"/>
<line x1="179.00" y1="547.30" x2="179.00" y2="550.10" stroke="#262626" stroke-width="1.15"/>
<rect x="210.55" y="466.65" width="12.40" height="80.65" fill="#6ca748" stroke="#5d9a38" stroke-width="0.7"/>
<rect x="227.45" y="466.15" width="12.80" height="81.15" fill="#542566" stroke="#43165a" stroke-width="0.7"/>
<line x1="216.75" y1="466.30" x2="216.75" y2="456.90" stroke="#262626" stroke-width="1.15"/>
<line x1="213.55" y1="456.90" x2="219.95" y2="456.90" stroke="#262626" stroke-width="1.15"/>
<line x1="233.85" y1="465.80" x2="233.85" y2="456.00" stroke="#262626" stroke-width="1.15"/>
<line x1="230.65" y1="456.00" x2="237.05" y2="456.00" stroke="#262626" stroke-width="1.15"/>
<line x1="225.00" y1="547.30" x2="225.00" y2="550.10" stroke="#262626" stroke-width="1.15"/>
<text x="77.96" y="562.00" font-size="8.58" font-weight="normal" textLength="17.33" lengthAdjust="spacing" fill="#111" stroke="#111" stroke-width="0.12">WBf</text>
<text x="121.50" y="562.00" font-size="8.58" font-weight="normal" textLength="21.89" lengthAdjust="spacing" fill="#111" stroke="#111" stroke-width="0.12">RBCf</text>
<text x="170.46" y="562.00" font-size="8.58" font-weight="normal" textLength="16.73" lengthAdjust="spacing" fill="#111" stroke="#111" stroke-width="0.12">WBf</text>
<text x="214.00" y="562.00" font-size="8.58" font-weight="normal" textLength="21.89" lengthAdjust="spacing" fill="#111" stroke="#111" stroke-width="0.12">RBCf</text>
<line x1="69.60" y1="567.90" x2="151.30" y2="567.90" stroke="#111" stroke-width="1.2"/>
<line x1="161.50" y1="567.90" x2="246.20" y2="567.90" stroke="#111" stroke-width="1.2"/>
<text x="99.98" y="578.60" font-size="8.72" font-weight="normal" textLength="21.23" lengthAdjust="spacing" fill="#111" stroke="#111" stroke-width="0.12">PEVs</text>
<text x="192.28" y="578.60" font-size="8.72" font-weight="normal" textLength="20.83" lengthAdjust="spacing" fill="#111" stroke="#111" stroke-width="0.12">EEVs</text>
<path d="M73.40,419.20 V414.40 H94.60 V419.20" fill="none" stroke="#262626" stroke-width="1.15"/>
<circle cx="80.80" cy="409.40" r="1.2" fill="#111"/>
<circle cx="84.10" cy="409.40" r="1.2" fill="#111"/>
<circle cx="87.30" cy="409.40" r="1.2" fill="#111"/>
<path d="M166.20,417.60 V412.50 H187.10 V417.60" fill="none" stroke="#262626" stroke-width="1.15"/>
<circle cx="173.40" cy="408.10" r="1.2" fill="#111"/>
<circle cx="176.65" cy="408.10" r="1.2" fill="#111"/>
<circle cx="179.90" cy="408.10" r="1.2" fill="#111"/>
<g transform="translate(22.95,495.80) rotate(-90)" fill="#111" stroke="#111" stroke-width="0.7" text-rendering="geometricPrecision"><text transform="translate(-0.08,0) scale(0.54,1)" font-size="9.80">E</text><text transform="translate(4.68,0) scale(0.47,1)" font-size="9.80">V</text><text transform="translate(8.40,0) scale(0.55,1)" font-size="9.80">s</text><text transform="translate(12.20,0) scale(0.62,1)" font-size="9.80">/</text><text transform="translate(15.31,0) scale(0.95,1)" font-size="7.64">µ</text><text transform="translate(21.34,0) scale(0.57,1)" font-size="9.80">L</text></g>
<rect x="252.45" y="421.65" width="14.50" height="7.95" fill="#6ca748" stroke="#5d9a38" stroke-width="0.7"/>
<rect x="252.45" y="435.35" width="14.50" height="7.75" fill="#542566" stroke="#43165a" stroke-width="0.7"/>
<text x="270.57" y="427.70" font-size="8.87" font-weight="normal" textLength="6.46" lengthAdjust="spacingAndGlyphs" fill="#111" stroke="#111" stroke-width="0.12">D</text>
<path d="M280.1,422.0 V428.0" stroke="#111" stroke-width="1.05" fill="none"/>
<path d="M280.4,422.2 L278.6,423.9" stroke="#111" stroke-width="1.0" fill="none"/>
<text x="270.45" y="441.50" font-size="9.16" font-weight="normal" textLength="12.01" lengthAdjust="spacing" fill="#111" stroke="#111" stroke-width="0.12">D2</text>
<rect x="1" y="1" width="517" height="1" fill="#e6e6e6"/>
<rect x="1" y="1" width="1" height="585" fill="#e6e6e6"/>
<rect x="0" y="0" width="520" height="1" fill="#000"/>
<rect x="0" y="0" width="1" height="588" fill="#000"/>
<rect x="518" y="0" width="1" height="588" fill="#808080"/>
<rect x="0" y="586" width="519" height="1" fill="#808080"/>
<rect x="519" y="0" width="1" height="588" fill="#000"/>
<rect x="0" y="587" width="520" height="1" fill="#000"/>
</svg>
</body></html>
